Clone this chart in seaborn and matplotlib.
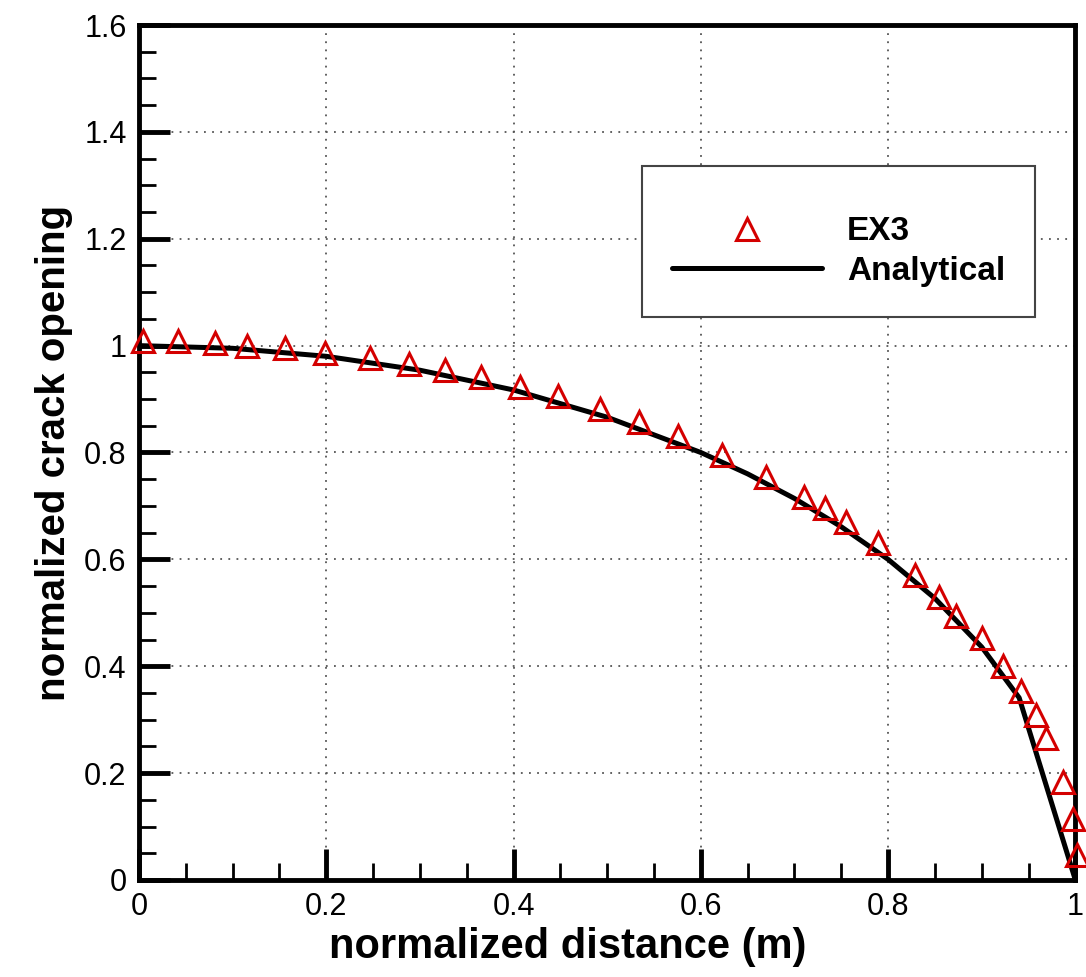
import numpy as np
import pandas as pd
import matplotlib
matplotlib.use("Agg")
import matplotlib.pyplot as plt
from matplotlib.ticker import MultipleLocator, FuncFormatter
import seaborn as sns

# EX3 numerical results
ex3_x = [0.004, 0.042, 0.081, 0.115, 0.156, 0.199, 0.247, 0.288, 0.327, 0.365,
         0.407, 0.447, 0.492, 0.534, 0.576, 0.623, 0.670, 0.710, 0.733, 0.755,
         0.789, 0.829, 0.854, 0.873, 0.900, 0.923, 0.942, 0.958, 0.969, 0.987,
         0.997, 1.002]
ex3_y = [1.008, 1.008, 1.005, 1.000, 0.995, 0.986, 0.977, 0.966, 0.954, 0.941,
         0.922, 0.906, 0.881, 0.857, 0.830, 0.795, 0.754, 0.717, 0.696, 0.670,
         0.631, 0.570, 0.530, 0.494, 0.453, 0.400, 0.354, 0.309, 0.266, 0.184,
         0.114, 0.047]

# analytical solution
ana_x = [0.0, 0.1, 0.2, 0.3, 0.4, 0.5, 0.6, 0.65, 0.7, 0.75, 0.8, 0.85, 0.9, 0.94, 1.0]
ana_y = [1.0, 0.995, 0.980, 0.954, 0.917, 0.866, 0.800, 0.760, 0.714, 0.661,
         0.600, 0.527, 0.436, 0.341, 0.0]

df_ex3 = pd.DataFrame({"x": ex3_x, "y": ex3_y})
df_ana = pd.DataFrame({"x": ana_x, "y": ana_y})

sns.set_style("white")
plt.rcParams["font.family"] = ["Liberation Sans", "DejaVu Sans"]
plt.rcParams["text.color"] = "black"
plt.rcParams["axes.labelcolor"] = "black"
plt.rcParams["xtick.color"] = "black"
plt.rcParams["ytick.color"] = "black"

fig = plt.figure(figsize=(10.86, 9.77), dpi=100)
ax = fig.add_axes([0.128, 0.0993, 0.8622, 0.8751])

sns.lineplot(data=df_ana, x="x", y="y", ax=ax, color="black", linewidth=3.6,
             label="Analytical", zorder=3, sort=False)
ax.plot(df_ex3["x"], df_ex3["y"], linestyle="none", marker="^", markersize=15.5,
        markerfacecolor="none", markeredgecolor="#d40000", markeredgewidth=2.2,
        label="EX3", zorder=4, clip_on=False)

ax.set_xlim(0, 1)
ax.set_ylim(0, 1.6)
ax.xaxis.set_major_locator(MultipleLocator(0.2))
ax.xaxis.set_minor_locator(MultipleLocator(0.05))
ax.yaxis.set_major_locator(MultipleLocator(0.2))
ax.yaxis.set_minor_locator(MultipleLocator(0.05))
fmt = FuncFormatter(lambda v, p: "%g" % round(v, 2))
ax.xaxis.set_major_formatter(fmt)
ax.yaxis.set_major_formatter(fmt)

ax.tick_params(which="major", direction="in", length=22, width=3.5,
               labelsize=22, pad=9, color="black", labelcolor="black")
ax.tick_params(which="minor", direction="in", length=12, width=2, color="black")
ax.tick_params(top=False, right=False, which="both", bottom=True, left=True)

ax.grid(True, which="major", linestyle=(0, (1, 3.5)), linewidth=1.3, color="#555555")
for s in ax.spines.values():
    s.set_linewidth(3.5)
    s.set_color("black")

ax.set_xlabel("normalized distance (m)", fontsize=30, fontweight="bold")
ax.xaxis.set_label_coords(0.458, -0.055)
ax.set_ylabel("normalized crack opening", fontsize=29, fontweight="bold", labelpad=8)

handles, labels = ax.get_legend_handles_labels()
order = [labels.index("EX3"), labels.index("Analytical")]
leg = ax.legend([handles[i] for i in order], [labels[i] for i in order],
                loc="upper left", bbox_to_anchor=(0.537, 0.835), fancybox=False,
                frameon=True, edgecolor="#444444", framealpha=1, numpoints=1,
                prop={"weight": "bold", "size": 24}, handlelength=4.5,
                borderpad=0.9, labelspacing=0.25, handletextpad=0.75,
                borderaxespad=0, title=" ", title_fontsize=9)
leg.get_frame().set_linewidth(1.5)
leg.set_zorder(5)

fig.savefig("out.png", dpi=100)
